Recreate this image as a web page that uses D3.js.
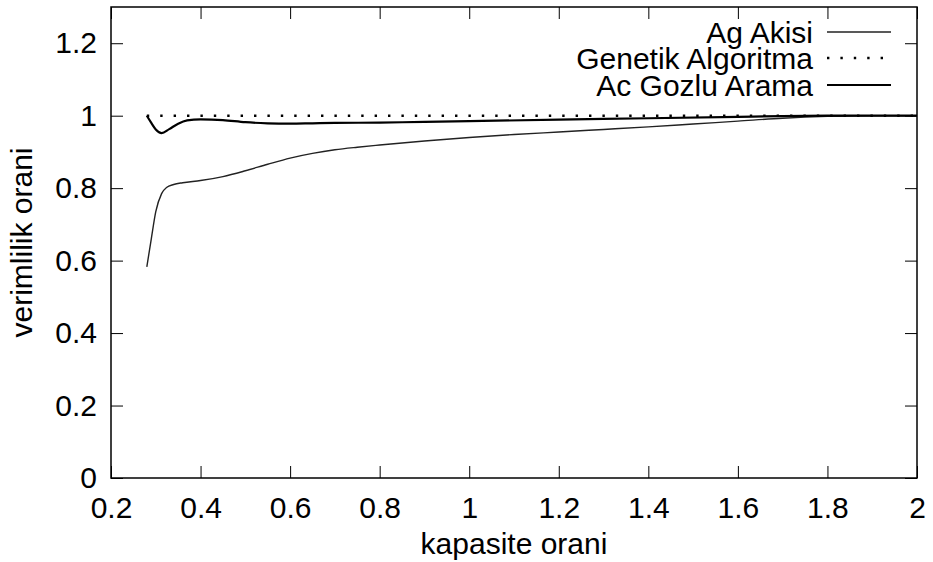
<!DOCTYPE html>
<html>
<head>
<meta charset="utf-8">
<script src="https://cdn.jsdelivr.net/npm/d3@7"></script>
<style>
  html, body { margin: 0; padding: 0; background: #fff; }
  svg text { font-family: "Liberation Sans", Arial, Helvetica, sans-serif; fill: #000; }
</style>
</head>
<body>
<svg id="chart" width="933" height="562"></svg>
<script>
// Tick values for both axes
const xTicks = [0.2, 0.4, 0.6, 0.8, 1, 1.2, 1.4, 1.6, 1.8, 2];
const yTicks = [0, 0.2, 0.4, 0.6, 0.8, 1, 1.2];

// Ag Akisi (network flow)
const agX = [0.28, 0.29, 0.30, 0.313, 0.324, 0.34, 0.36, 0.40, 0.45, 0.50, 0.55, 0.60, 0.65, 0.70, 0.75, 0.80, 0.90, 1.0, 1.1, 1.2, 1.3, 1.4, 1.5, 1.6, 1.7, 1.8, 1.9, 2.0];
const agY = [0.583, 0.66, 0.735, 0.785, 0.802, 0.810, 0.815, 0.821, 0.832, 0.848, 0.866, 0.883, 0.896, 0.906, 0.913, 0.919, 0.930, 0.940, 0.948, 0.955, 0.962, 0.969, 0.977, 0.985, 0.993, 0.998, 1.0, 1.0];

// Genetik Algoritma
const gaX = [0.28, 2.0];
const gaY = [1.0, 1.0];

// Ac Gozlu Arama (greedy search)
const acX = [0.28, 0.29, 0.30, 0.313, 0.33, 0.35, 0.37, 0.40, 0.45, 0.50, 0.55, 0.60, 0.65, 0.70, 0.80, 0.90, 1.0, 1.2, 1.4, 1.6, 1.7, 1.8, 2.0];
const acY = [1.0, 0.98, 0.962, 0.952, 0.963, 0.978, 0.987, 0.990, 0.988, 0.982, 0.979, 0.978, 0.979, 0.980, 0.981, 0.983, 0.985, 0.989, 0.993, 0.997, 0.999, 1.0, 1.0];

const seriesNames = ["Ag Akisi", "Genetik Algoritma", "Ac Gozlu Arama"];

const svg = d3.select("#chart");
const m = { left: 111, right: 917, top: 7, bottom: 478 };
const x = d3.scaleLinear().domain([0.2, 2]).range([m.left, m.right]);
const y = d3.scaleLinear().domain([0, 1.3]).range([m.bottom, m.top]);

const fontSize = 30;
const tickLen = 12;
const fmt = d => String(d);

// Axes with inward ticks, mirrored on top and right
const gx = svg.append("g").attr("transform", `translate(0,${m.bottom})`)
  .call(d3.axisBottom(x).tickValues(xTicks).tickFormat(fmt).tickSize(-tickLen).tickPadding(29));
const gxTop = svg.append("g").attr("transform", `translate(0,${m.top})`)
  .call(d3.axisTop(x).tickValues(xTicks).tickFormat("").tickSize(-tickLen));
const gy = svg.append("g").attr("transform", `translate(${m.left},0)`)
  .call(d3.axisLeft(y).tickValues(yTicks).tickFormat(fmt).tickSize(-tickLen).tickPadding(14));
const gyRight = svg.append("g").attr("transform", `translate(${m.right},0)`)
  .call(d3.axisRight(y).tickValues(yTicks).tickFormat("").tickSize(-tickLen));

[gx, gxTop, gy, gyRight].forEach(g => {
  g.select(".domain").remove();
  g.selectAll(".tick line").attr("stroke", "#000").attr("stroke-width", 1);
  g.selectAll("text").attr("font-size", fontSize).attr("font-family", null);
});
gx.selectAll("text").attr("dy", "0.35em");

// Frame
svg.append("rect")
  .attr("x", m.left).attr("y", m.top)
  .attr("width", m.right - m.left).attr("height", m.bottom - m.top)
  .attr("fill", "none").attr("stroke", "#000").attr("stroke-width", 1.5);

// Axis titles
svg.append("text")
  .attr("x", (m.left + m.right) / 2).attr("y", 554)
  .attr("text-anchor", "middle").attr("font-size", fontSize)
  .text("kapasite orani");
svg.append("text")
  .attr("transform", `translate(32,${(m.top + m.bottom) / 2}) rotate(-90)`)
  .attr("text-anchor", "middle").attr("font-size", fontSize)
  .text("verimlilik orani");

// Series lines
const line = d3.line().x(d => x(d[0])).y(d => y(d[1])).curve(d3.curveMonotoneX);
const styles = [
  { stroke: "#222", width: 1.4, dash: null },
  { stroke: "#000", width: 2.4, dash: "2.4,11" },
  { stroke: "#000", width: 2.2, dash: null }
];
const series = [d3.zip(agX, agY), d3.zip(gaX, gaY), d3.zip(acX, acY)];

const plot = svg.append("g");
series.forEach((pts, i) => {
  plot.append("path")
    .attr("d", line(pts))
    .attr("fill", "none")
    .attr("stroke", styles[i].stroke)
    .attr("stroke-width", styles[i].width)
    .attr("stroke-dasharray", styles[i].dash)
    .attr("stroke-linejoin", "round");
});

// Legend
const legY = [32, 58, 85];
const legend = svg.append("g");
seriesNames.forEach((name, i) => {
  legend.append("text")
    .attr("x", 813).attr("y", legY[i]).attr("dy", "0.35em")
    .attr("text-anchor", "end").attr("font-size", fontSize)
    .text(name);
  legend.append("line")
    .attr("x1", 827).attr("x2", 891)
    .attr("y1", legY[i]).attr("y2", legY[i])
    .attr("stroke", styles[i].stroke)
    .attr("stroke-width", styles[i].width)
    .attr("stroke-dasharray", styles[i].dash);
});
</script>
</body>
</html>
